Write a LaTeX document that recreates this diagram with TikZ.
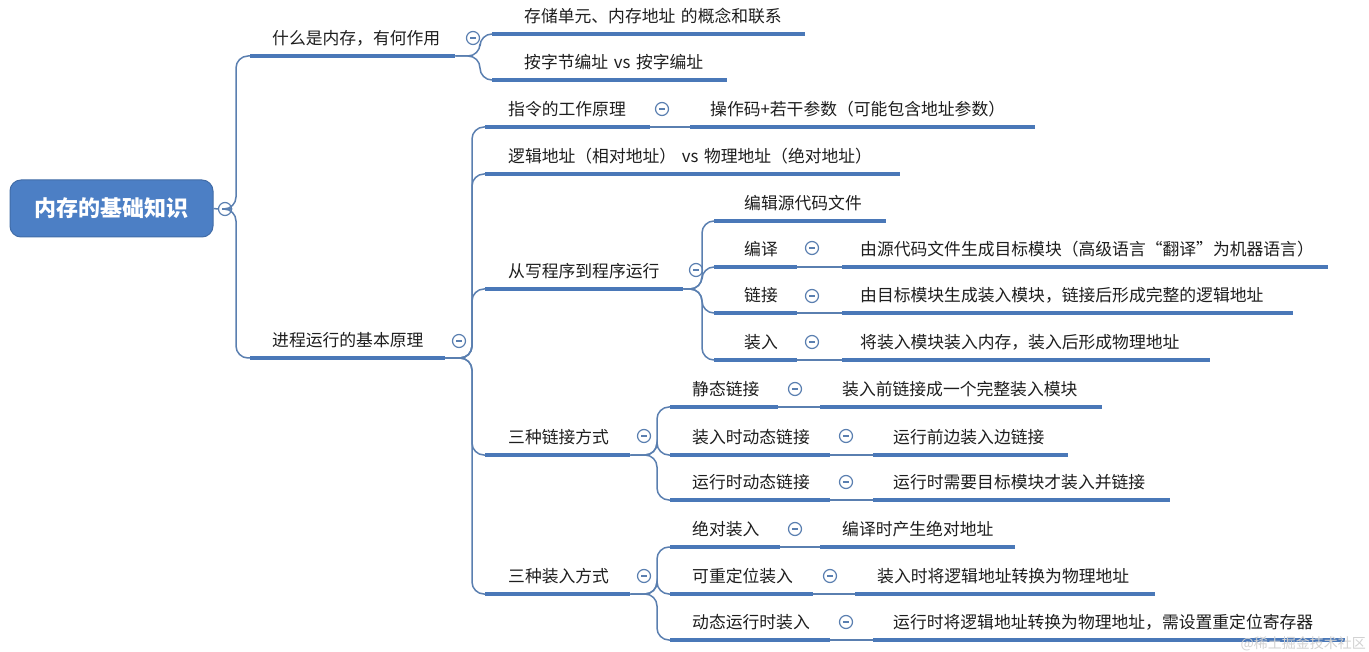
\documentclass[tikz,border=0pt]{standalone}
\usepackage{fontspec}
\setmainfont{Noto Sans CJK SC}
\definecolor{barc}{HTML}{4A78B8}
\definecolor{conc}{HTML}{5A7FB0}
\definecolor{rootc}{HTML}{4C7FC5}
\definecolor{txt}{HTML}{1E1E1E}
\tikzset{
  barline/.style={draw=barc, line width=4.5pt},
  topic/.style={anchor=south west, inner sep=0pt, text depth=11.3pt, text width=#1, align=left,
    font=\fontsize{16.8}{20}\selectfont, text=txt,
    append after command={(\tikzlastnode.south west) edge[barline] (\tikzlastnode.south east)}},
  conn/.style={draw=conc, line width=1.5pt, rounded corners=12pt},
  fold/.style={circle, draw=conc, fill=white, line width=1.2pt, minimum size=13pt, inner sep=0pt,
    path picture={\draw[conc, line width=1.2pt] ([xshift=-3pt]path picture bounding box.center) -- ([xshift=3pt]path picture bounding box.center);}},
  rootbox/.style={draw=rootc!85!black, fill=rootc, rounded corners=11pt, minimum width=203pt,
    minimum height=57pt, text=white, font=\fontsize{22}{26}\selectfont\bfseries, line width=1pt}
}
\begin{document}
\begin{tikzpicture}[x=1pt, y=-1pt]
\fill[white] (0,0) rectangle (1369,652);
\useasboundingbox (0,0) rectangle (1369,652);

% root
\node[rootbox] (root) at (111.5,208.5) {内存的基础知识};
\node[fold] (rf) at (225,209) {};

% level 1
\node[topic=205pt] (n1) at (250,56) {\hspace*{22pt}什么是内存，有何作用};
\node[fold] (f1) at (473,38) {};
\node[topic=313pt] (n11) at (492,34) {\hspace*{32pt}存储单元、内存地址 的概念和联系};
\node[topic=235pt] (n12) at (492,80) {\hspace*{32pt}按字节编址 vs 按字编址};

\node[topic=195pt] (n2) at (250,358) {\hspace*{22pt}进程运行的基本原理};
\node[fold] (f2) at (459,341) {};

% instruction
\node[topic=165pt] (n21) at (485,127) {\hspace*{23pt}指令的工作原理};
\node[fold] (f21) at (662,109) {};
\node[topic=345pt] (n211) at (690,127) {\hspace*{20pt}操作码+若干参数（可能包含地址参数）};

\node[topic=415pt] (n22) at (485,174) {\hspace*{23pt}逻辑地址（相对地址） vs 物理地址（绝对地址）};

% program to run
\node[topic=198pt] (n23) at (485,289) {\hspace*{23pt}从写程序到程序运行};
\node[fold] (f23) at (696,270) {};
\node[topic=172pt] (n231) at (714,221) {\hspace*{30pt}编辑源代码文件};
\node[topic=83pt] (n232) at (714,267) {\hspace*{30pt}编译};
\node[fold] (f232) at (812,248) {};
\node[topic=486pt] (n2321) at (842,267) {\hspace*{18pt}由源代码文件生成目标模块（高级语言“翻译”为机器语言）};
\node[topic=83pt] (n233) at (714,313) {\hspace*{30pt}链接};
\node[fold] (f233) at (812,296) {};
\node[topic=451pt] (n2331) at (842,313) {\hspace*{18pt}由目标模块生成装入模块，链接后形成完整的逻辑地址};
\node[topic=83pt] (n234) at (714,360) {\hspace*{30pt}装入};
\node[fold] (f234) at (812,342) {};
\node[topic=368pt] (n2341) at (842,360) {\hspace*{18pt}将装入模块装入内存，装入后形成物理地址};

% linking
\node[topic=145pt] (n24) at (485,455) {\hspace*{23pt}三种链接方式};
\node[fold] (f24) at (644,436) {};
\node[topic=108pt] (n241) at (670,407) {\hspace*{22pt}静态链接};
\node[fold] (f241) at (795,389) {};
\node[topic=282pt] (n2411) at (820,407) {\hspace*{22pt}装入前链接成一个完整装入模块};
\node[topic=160pt] (n242) at (670,455) {\hspace*{22pt}装入时动态链接};
\node[fold] (f242) at (846,436) {};
\node[topic=195pt] (n2421) at (873,455) {\hspace*{20pt}运行前边装入边链接};
\node[topic=160pt] (n243) at (670,500) {\hspace*{22pt}运行时动态链接};
\node[fold] (f243) at (846,482) {};
\node[topic=297pt] (n2431) at (873,500) {\hspace*{20pt}运行时需要目标模块才装入并链接};

% loading
\node[topic=145pt] (n25) at (485,594) {\hspace*{23pt}三种装入方式};
\node[fold] (f25) at (644,576) {};
\node[topic=110pt] (n251) at (670,547) {\hspace*{22pt}绝对装入};
\node[fold] (f251) at (795,529) {};
\node[topic=195pt] (n2511) at (820,547) {\hspace*{22pt}编译时产生绝对地址};
\node[topic=143pt] (n252) at (670,594) {\hspace*{22pt}可重定位装入};
\node[fold] (f252) at (830,576) {};
\node[topic=300pt] (n2521) at (855,594) {\hspace*{22pt}装入时将逻辑地址转换为物理地址};
\node[topic=160pt] (n253) at (670,640) {\hspace*{22pt}动态运行时装入};
\node[fold] (f253) at (846,622) {};
\node[topic=472pt] (n2531) at (873,640) {\hspace*{20pt}运行时将逻辑地址转换为物理地址，需设置重定位寄存器};

% branch points
\coordinate (b0) at (236,209);
\coordinate (b1) at (480,56);
\coordinate (b2) at (472,358);
\coordinate (b23) at (702,289);
\coordinate (b24) at (657,455);
\coordinate (b25) at (657,594);

% connectors
\draw[conn] (root.east) -- (rf.west);
\draw[conn] (rf.east) -- (b0) |- (n1.south west);
\draw[conn] (rf.east) -- (b0) |- (n2.south west);

\draw[conn] (n1.south east) -- (b1) |- (n11.south west);
\draw[conn] (n1.south east) -- (b1) |- (n12.south west);

\foreach \c in {n21,n22,n23,n24,n25}
  \draw[conn] (n2.south east) -- (b2) |- (\c.south west);

\draw[conn] (n21.south east) -- (n211.south west);

\foreach \c in {n231,n232,n233,n234}
  \draw[conn] (n23.south east) -- (b23) |- (\c.south west);
\draw[conn] (n232.south east) -- (n2321.south west);
\draw[conn] (n233.south east) -- (n2331.south west);
\draw[conn] (n234.south east) -- (n2341.south west);

\foreach \c in {n241,n242,n243}
  \draw[conn] (n24.south east) -- (b24) |- (\c.south west);
\draw[conn] (n241.south east) -- (n2411.south west);
\draw[conn] (n242.south east) -- (n2421.south west);
\draw[conn] (n243.south east) -- (n2431.south west);

\foreach \c in {n251,n252,n253}
  \draw[conn] (n25.south east) -- (b25) |- (\c.south west);
\draw[conn] (n251.south east) -- (n2511.south west);
\draw[conn] (n252.south east) -- (n2521.south west);
\draw[conn] (n253.south east) -- (n2531.south west);

% watermark
\node[font=\fontsize{14}{15}\selectfont, text=gray!35, anchor=east, inner sep=0pt] (wm) at (1366,644) {@稀土掘金技术社区};
\end{tikzpicture}
\end{document}
